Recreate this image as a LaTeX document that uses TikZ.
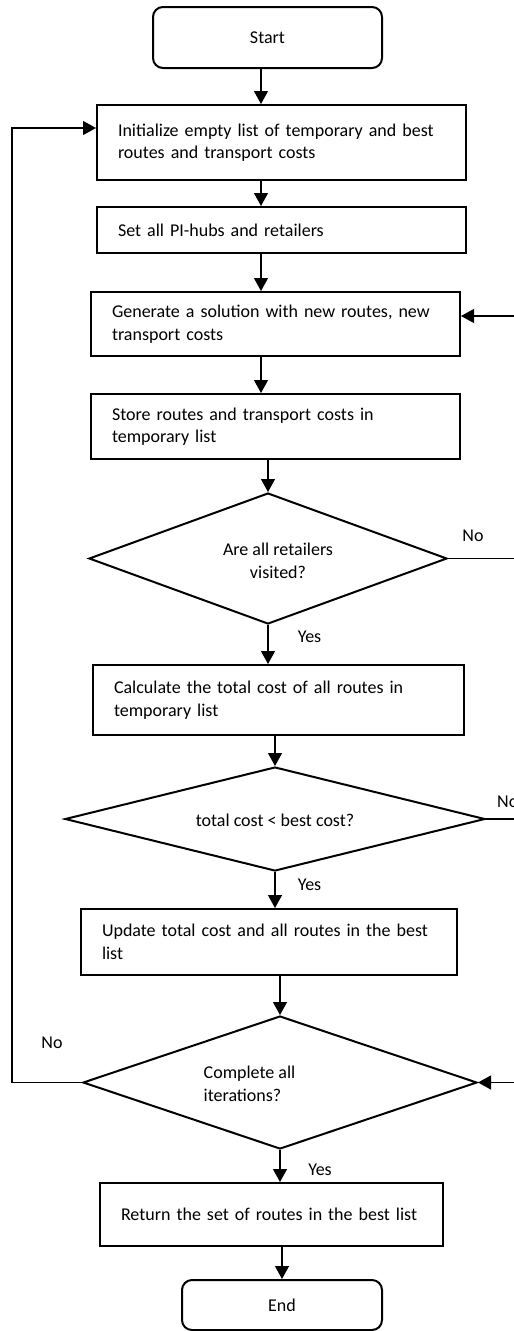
\documentclass[tikz,border=0pt]{standalone}
\usepackage{fontspec}
\setmainfont{Carlito}
\usetikzlibrary{arrows.meta,shapes.geometric}
\begin{document}
\begin{tikzpicture}[x=1pt,y=-1pt,
  every node/.style={font=\fontsize{18}{22.5}\selectfont},
  box/.style={draw, line width=2pt, rectangle, inner xsep=21pt, inner ysep=0pt, align=left},
  term/.style={draw, line width=2pt, rectangle, rounded corners=10pt, inner sep=0pt},
  dec/.style={draw, line width=2pt, diamond, inner sep=0pt},
  conn/.style={line width=1.2pt},
  arr/.style={conn, -{Triangle[length=13pt,width=14pt]}},
  lbl/.style={inner sep=0pt}]
\useasboundingbox (0,0) rectangle (514,1331);

\node[term, minimum width=229pt, minimum height=61pt] (start) at (267.5,37.5) {Start};
\node[box, minimum width=369pt, minimum height=75pt, text width=327pt] (init) at (281.5,142.5) {\mbox{Initialize empty list of temporary and best}\\routes and transport costs};
\node[box, minimum width=369pt, minimum height=46pt, text width=327pt] (set) at (281.5,230) {Set all PI-hubs and retailers};
\node[box, minimum width=369pt, minimum height=64pt, text width=327pt] (gen) at (275.5,324) {\mbox{Generate a solution with new routes, new}\\transport costs};
\node[box, minimum width=369pt, minimum height=65pt, text width=327pt] (store) at (275.5,426.5) {Store routes and transport costs in\\temporary list};
\node[dec, minimum width=358pt, minimum height=131pt] (d1) at (268,558.5) {};
\node[lbl, align=center] (d1t) at (278,561) {Are all retailers\\visited?};
\node[box, minimum width=371pt, minimum height=70pt, text width=329pt] (calc) at (278.5,700) {\mbox{Calculate the total cost of all routes in}\\temporary list};
\node[dec, minimum width=420pt, minimum height=104pt] (d2) at (275,819) {};
\node[lbl] (d2t) at (275,820) {total cost < best cost?};
\node[box, minimum width=376pt, minimum height=66pt, text width=334pt] (upd) at (269,942) {\mbox{Update total cost and all routes in the best}\\list};
\node[dec, minimum width=394pt, minimum height=133pt] (d3) at (280,1082.5) {};
\node[lbl, align=left] (d3t) at (249.5,1084) {Complete all\\iterations?};
\node[box, minimum width=343pt, minimum height=63pt, text width=301pt] (ret) at (271.5,1214.5) {\mbox{Return the set of routes in the best list}};
\node[term, minimum width=200pt, minimum height=50pt] (end) at (282,1305) {End};

\coordinate (lx) at (12,128);
\coordinate (r1) at (514,316);

\draw[arr] (start.south -| 261,0) -- (init.north -| 261,0);
\draw[arr] (init.south -| 261,0) -- (set.north -| 261,0);
\draw[arr] (set.south -| 261,0) -- (gen.north -| 261,0);
\draw[arr] (gen.south -| 261,0) -- (store.north -| 261,0);
\draw[arr] (store.south -| d1.north) -- (d1.north);
\draw[arr] (d1.south) -- (calc.north -| d1.south);
\draw[arr] (calc.south -| d2.north) -- (d2.north);
\draw[arr] (d2.south) -- (upd.north -| d2.south);
\draw[arr] (upd.south -| d3.north) -- (d3.north);
\draw[arr] (d3.south) -- (ret.north -| d3.south);
\draw[arr] (ret.south -| end.north) -- (end.north);

\draw[arr] (r1) -- (r1 -| gen.east);
\draw[conn] (d1.east) -- (d1.east -| r1);
\draw[conn] (d2.east) -- (d2.east -| r1);
\draw[arr] (d3.east -| r1) -- (d3.east);
\draw[arr] (d3.west) -| (lx) -- (lx -| init.west);

\node[lbl] (no1) at (473,536) {No};
\node[lbl] (yes1) at (309.5,637) {Yes};
\node[lbl, anchor=west] (no2) at (497,802) {No};
\node[lbl] (yes2) at (309.5,885) {Yes};
\node[lbl] (no3) at (52,1043) {No};
\node[lbl] (yes3) at (320,1170) {Yes};
\end{tikzpicture}
\end{document}
